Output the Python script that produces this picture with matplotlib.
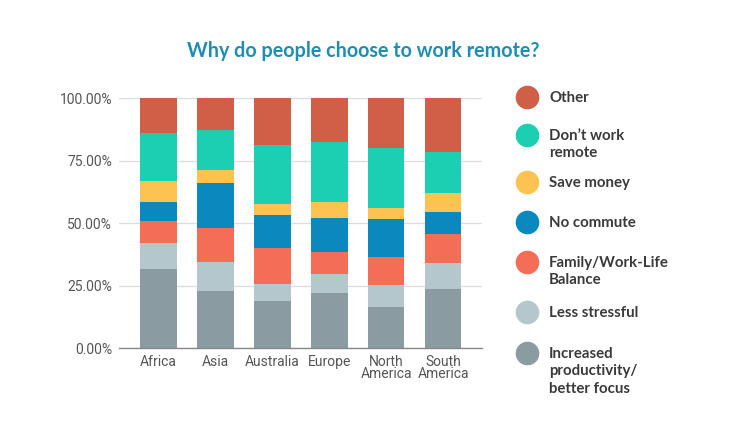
import matplotlib
matplotlib.use('Agg')
import matplotlib.pyplot as plt
from matplotlib.lines import Line2D
from matplotlib.ticker import FuncFormatter
import numpy as np

regions = ['Africa', 'Asia', 'Australia', 'Europe', 'North\nAmerica', 'South\nAmerica']

# percentages, bottom of stack first
productivity = [31.9, 23.1, 19.1, 22.3, 16.7, 23.7]
less_stress  = [10.1, 11.6, 6.7, 7.5, 8.7, 10.5]
family       = [8.9, 13.3, 14.3, 8.8, 11.2, 11.5]
no_commute   = [7.6, 18.3, 13.2, 13.7, 15.1, 8.7]
save_money   = [8.5, 5.1, 4.4, 6.3, 4.5, 7.6]
dont_work    = [19.3, 16.0, 23.6, 24.0, 23.9, 16.7]
other        = [13.7, 12.6, 18.7, 17.4, 19.9, 21.3]

series = [
    ('Increased\nproductivity/\nbetter focus', productivity, '#8a9ba1'),
    ('Less stressful', less_stress, '#b3c7cd'),
    ('Family/Work-Life\nBalance', family, '#f46d56'),
    ('No commute', no_commute, '#0a89be'),
    ('Save money', save_money, '#fcc352'),
    ('Don’t work\nremote', dont_work, '#1dcfb2'),
    ('Other', other, '#cf5f46'),
]

fig = plt.figure(figsize=(7.51, 4.30), dpi=100)
ax = fig.add_axes([119/751, 1 - 348.3/430, 363/751, 250/430])

x = np.arange(len(regions))
bottom = np.zeros(len(regions))
for lbl, vals, col in series:
    ax.bar(x, vals, width=0.64, bottom=bottom, color=col, linewidth=0, zorder=3)
    bottom += np.array(vals)

ax.set_xlim(-0.69, 5.68)
ax.set_ylim(0, 100)
ax.set_yticks([0, 25, 50, 75, 100])
ax.yaxis.set_major_formatter(FuncFormatter(lambda v, p: f'{v:.2f}%'))
ax.grid(axis='y', color='#dcdcdc', lw=0.9, zorder=0)
for s in ['top', 'right', 'left']:
    ax.spines[s].set_visible(False)
ax.spines['bottom'].set_color('#888888')
ax.spines['bottom'].set_linewidth(1.0)
ax.spines['bottom'].set_zorder(4)
ax.tick_params(axis='both', length=0, labelsize=10, labelcolor='#555555')
ax.tick_params(axis='y', pad=5)
ax.tick_params(axis='x', pad=5)
ax.set_xticks(x)
ax.set_xticklabels(regions, family='Roboto', linespacing=0.78)
for t in ax.get_yticklabels():
    t.set_family('Roboto')

fig.text(363/751, 1 - 51/430, 'Why do people choose to work remote?',
         ha='center', va='center', fontsize=14.2, fontweight='bold',
         color='#1f8db3', family='Lato')

# legend, top entry first
legend_y = [96.7, 135, 182, 222, 262, 312, 353]
for (lbl, vals, col), yy in zip(series[::-1], legend_y):
    fig.add_artist(Line2D([527/751], [1 - yy/430], marker='o', markersize=16,
                          color=col, transform=fig.transFigure, linestyle=''))
    fig.text(549/751, 1 - (yy - 6)/430, lbl, ha='left', va='top',
             fontsize=10.8, fontweight='bold', color='#3a3a3a', family='Lato',
             linespacing=1.3)

fig.savefig('out.png', dpi=100, facecolor='white')
